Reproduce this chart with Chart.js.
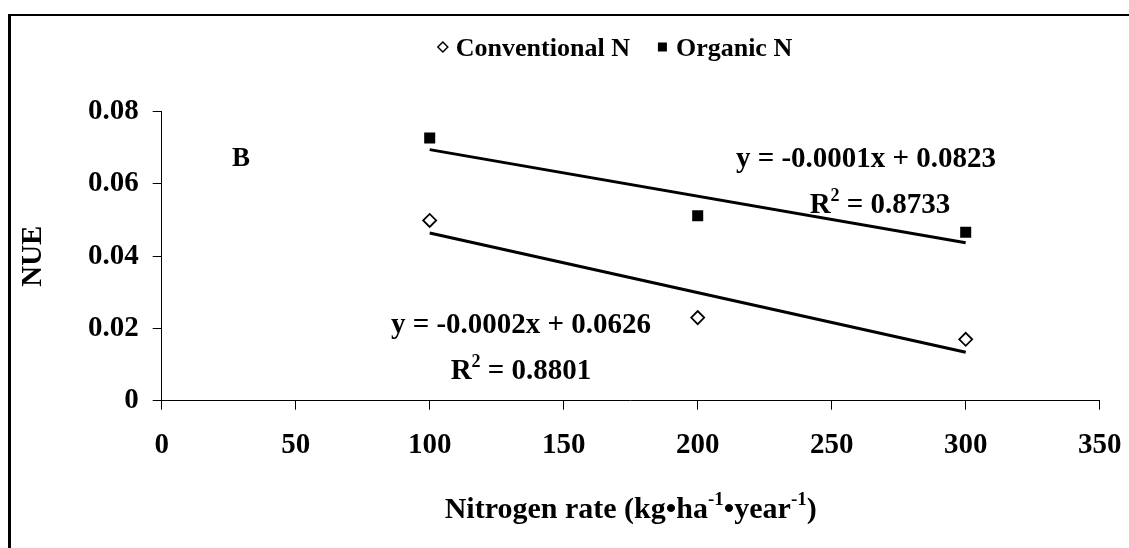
<!DOCTYPE html>
<html><head><meta charset="utf-8">
<script src="https://cdn.jsdelivr.net/npm/chart.js@4/dist/chart.umd.min.js"></script>
<style>html,body{margin:0;padding:0;background:#fff;overflow:hidden}</style>
</head><body>
<canvas id="c" width="1129" height="548"></canvas>
<script>
// ---- data ----
const nitrogenRates = [100, 200, 300];
const conventionalNUE = [0.0499, 0.0230, 0.0170];
const organicNUE = [0.0727, 0.0512, 0.0466];
const conventionalTrendX = [100, 300];
const conventionalTrendY = [0.0464, 0.0134];
const organicTrendX = [100, 300];
const organicTrendY = [0.0695, 0.0437];
const seriesNames = ['Conventional N', 'Organic N'];
const xTickValues = [0, 50, 100, 150, 200, 250, 300, 350];
const yTickValues = [0, 0.02, 0.04, 0.06, 0.08];
const conventionalEquation = 'y = -0.0002x + 0.0626';
const conventionalR2 = '0.8801';
const organicEquation = 'y = -0.0001x + 0.0823';
const organicR2 = '0.8733';
const panelLabel = 'B';
const yTitle = 'NUE';

const FONT = '"Liberation Serif","Times New Roman",serif';
const pts = (xs, ys) => xs.map((x, i) => ({x: x, y: ys[i]}));

function partsWidth(ctx, parts, size) {
  return parts.reduce((s, p) => {
    ctx.font = 'bold ' + (p[1] ? Math.round(size * 0.62) : size) + 'px ' + FONT;
    return s + ctx.measureText(p[0]).width;
  }, 0);
}
function drawParts(ctx, parts, x, y, size, align) {
  const w = partsWidth(ctx, parts, size);
  let cx = align === 'center' ? x - w / 2 : x;
  ctx.textAlign = 'left';
  ctx.textBaseline = 'alphabetic';
  parts.forEach(p => {
    ctx.font = 'bold ' + (p[1] ? Math.round(size * 0.62) : size) + 'px ' + FONT;
    ctx.fillText(p[0], cx, p[1] ? y - size * 0.42 : y);
    cx += ctx.measureText(p[0]).width;
  });
  return w;
}

const decor = {
  id: 'decor',
  afterDraw(chart) {
    const ctx = chart.ctx;
    const area = chart.chartArea;
    ctx.save();
    ctx.fillStyle = '#000';
    // outer frame
    ctx.fillRect(8, 14, 3, 548);
    ctx.fillRect(8, 14, 1121, 2);
    // legend
    const LS = 26;
    const w1 = partsWidth(ctx, [[seriesNames[0], false]], LS);
    const w2 = partsWidth(ctx, [[seriesNames[1], false]], LS);
    const total = 18 + w1 + 28 + 18 + w2;
    let lx = 615 - total / 2;
    const ly = 47;
    ctx.lineWidth = 1.5;
    ctx.strokeStyle = '#000';
    ctx.beginPath();
    ctx.moveTo(lx + 5, ly - 5); ctx.lineTo(lx + 10, ly); ctx.lineTo(lx + 5, ly + 5); ctx.lineTo(lx, ly); ctx.closePath();
    ctx.fillStyle = '#fff'; ctx.fill(); ctx.stroke();
    ctx.fillStyle = '#000';
    drawParts(ctx, [[seriesNames[0], false]], lx + 18, ly + 9, LS, 'left');
    lx += 18 + w1 + 28;
    ctx.fillRect(lx, ly - 4.5, 9, 9);
    drawParts(ctx, [[seriesNames[1], false]], lx + 18, ly + 9, LS, 'left');
    // panel label
    drawParts(ctx, [[panelLabel, false]], 232, 166, 27, 'left');
    // equations
    const ES = 29;
    drawParts(ctx, [[organicEquation, false]], 866, 167, ES, 'center');
    drawParts(ctx, [['R', false], ['2', true], [' = ' + organicR2, false]], 880, 213, ES, 'center');
    drawParts(ctx, [[conventionalEquation, false]], 521, 333, ES, 'center');
    drawParts(ctx, [['R', false], ['2', true], [' = ' + conventionalR2, false]], 521, 379, ES, 'center');
    // x title
    drawParts(ctx, [['Nitrogen rate (kg\u2022ha', false], ['-1', true], ['\u2022year', false], ['-1', true], [')', false]],
      (area.left + area.right) / 2, 518, 30, 'center');
    // y title
    ctx.translate(41, (area.top + area.bottom) / 2);
    ctx.rotate(-Math.PI / 2);
    drawParts(ctx, [[yTitle, false]], 0, 0, 29, 'center');
    ctx.restore();
  }
};

new Chart(document.getElementById('c'), {
  type: 'scatter',
  data: {
    datasets: [
      {label: seriesNames[0], data: pts(nitrogenRates, conventionalNUE), pointStyle: 'rectRot', pointRadius: 6.5,
       backgroundColor: '#fff', borderColor: '#000', borderWidth: 1.8, order: 1},
      {label: seriesNames[1], data: pts(nitrogenRates, organicNUE), pointStyle: 'rect', pointRadius: 7.8,
       backgroundColor: '#000', borderColor: '#000', borderWidth: 0, order: 1},
      {label: 'Conventional trend', data: pts(conventionalTrendX, conventionalTrendY), showLine: true, pointRadius: 0,
       borderColor: '#000', borderWidth: 3, order: 2},
      {label: 'Organic trend', data: pts(organicTrendX, organicTrendY), showLine: true, pointRadius: 0,
       borderColor: '#000', borderWidth: 3, order: 2}
    ]
  },
  options: {
    responsive: false, animation: false, devicePixelRatio: 1,
    layout: {padding: {left: 0, top: 111.7, right: 29.3, bottom: 0}},
    plugins: {legend: {display: false}, tooltip: {enabled: false}},
    scales: {
      x: {
        type: 'linear', min: 0, max: 350,
        afterBuildTicks: s => { s.ticks = xTickValues.map(v => ({value: v})); },
        afterFit: s => { s.height = 147.3; s.paddingLeft = 0; s.paddingRight = 0; },
        grid: {display: true, drawOnChartArea: false, drawTicks: true, tickLength: 9, color: '#000', lineWidth: 1},
        border: {display: true, color: '#000', width: 1},
        ticks: {color: '#000', padding: 18, maxRotation: 0, font: {family: FONT, size: 29, weight: 'bold'},
                callback: v => String(v)}
      },
      y: {
        type: 'linear', min: 0, max: 0.08,
        afterBuildTicks: s => { s.ticks = yTickValues.map(v => ({value: v})); },
        afterFit: s => { s.width = 161.7; s.paddingTop = 0; s.paddingBottom = 0; },
        grid: {display: true, drawOnChartArea: false, drawTicks: true, tickLength: 9, color: '#000', lineWidth: 1},
        border: {display: true, color: '#000', width: 1},
        ticks: {color: '#000', padding: 14, font: {family: FONT, size: 29, weight: 'bold'},
                callback: v => v === 0 ? '0' : v.toFixed(2)}
      }
    }
  },
  plugins: [decor]
});
</script>
</body></html>
